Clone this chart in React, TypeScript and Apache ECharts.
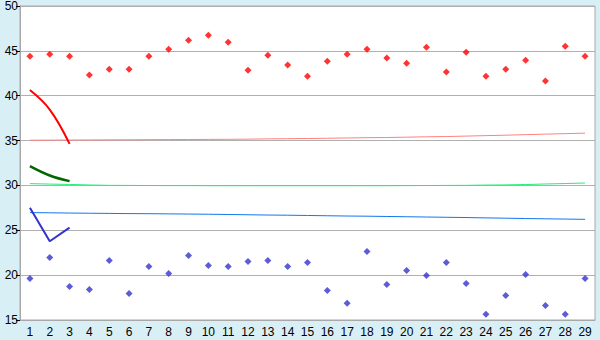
import React, { useEffect, useRef } from "react";
import * as echarts from "echarts";

const categories = Array.from({ length: 29 }, (_, i) => String(i + 1));

const upperPoints = [44.41, 44.63, 44.41, 42.3, 42.96, 42.96, 44.41, 45.18, 46.18, 46.74, 45.96, 42.85, 44.52, 43.41, 42.18, 43.85, 44.63, 45.18, 44.19, 43.63, 45.41, 42.63, 44.85, 42.18, 42.96, 43.96, 41.63, 45.52, 44.41];
const lowerPoints = [19.63, 21.96, 18.74, 18.41, 21.63, 17.96, 20.96, 20.19, 22.19, 21.08, 20.96, 21.52, 21.63, 20.96, 21.41, 18.3, 16.86, 22.63, 18.97, 20.52, 19.97, 21.41, 19.08, 15.63, 17.74, 20.08, 16.63, 15.63, 19.63];

const redLine = [40.63, 38.45, 34.63];
const greenLine = [32.15, 31.11, 30.48];
const blueLine = [27.52, 23.78, 25.3];

const redTrend = [35.04, 35.05, 35.06, 35.07, 35.08, 35.09, 35.1, 35.11, 35.12, 35.13, 35.14, 35.16, 35.19, 35.21, 35.23, 35.26, 35.29, 35.32, 35.34, 35.38, 35.42, 35.45, 35.5, 35.55, 35.6, 35.66, 35.72, 35.77, 35.83];
const greenTrend = [30.2, 30.15, 30.11, 30.05, 30.01, 30.0, 29.99, 29.98, 29.98, 29.97, 29.97, 29.97, 29.97, 29.97, 29.97, 29.97, 29.97, 29.97, 29.97, 29.98, 29.99, 30.0, 30.01, 30.04, 30.06, 30.1, 30.16, 30.21, 30.27];
const blueTrend = [26.97, 26.95, 26.92, 26.9, 26.88, 26.86, 26.85, 26.83, 26.81, 26.79, 26.76, 26.73, 26.7, 26.68, 26.65, 26.62, 26.59, 26.57, 26.54, 26.51, 26.48, 26.45, 26.42, 26.38, 26.35, 26.31, 26.28, 26.25, 26.22];

const yMin = 15;
const yMax = 50;
const yStep = 5;

export default function App() {
  const ref = useRef<HTMLDivElement>(null);
  useEffect(() => {
    if (!ref.current) return;
    const chart = echarts.init(ref.current, undefined, { renderer: "svg" });
    const font = "Liberation Sans";
    chart.setOption({
      animation: false,
      backgroundColor: "#d9eff6",
      grid: {
        left: 20,
        right: 5,
        top: 5,
        bottom: 20,
        show: true,
        backgroundColor: "#ffffff",
        borderColor: "#a8a8a8",
        borderWidth: 1,
      },
      xAxis: {
        type: "category",
        data: categories,
        boundaryGap: true,
        axisLine: { lineStyle: { color: "#a8a8a8", width: 1 } },
        axisTick: { alignWithLabel: true, length: 5, lineStyle: { color: "#000" } },
        axisLabel: { color: "#000", fontFamily: font, fontSize: 12, margin: 6, interval: 0 },
        splitLine: { show: false },
      },
      yAxis: {
        type: "value",
        min: yMin,
        max: yMax,
        interval: yStep,
        axisLine: { show: true, lineStyle: { color: "#a8a8a8", width: 1 } },
        axisTick: { show: true, length: 4, lineStyle: { color: "#000" } },
        axisLabel: { color: "#000", fontFamily: font, fontSize: 12, margin: 2 },
        splitLine: { show: true, lineStyle: { color: "#b0b0b0", width: 1 } },
      },
      series: [
        { type: "line", data: redTrend, symbol: "none", lineStyle: { color: "#ff8080", width: 1 }, z: 2 },
        { type: "line", data: greenTrend, symbol: "none", lineStyle: { color: "#22ee77", width: 1 }, z: 2 },
        { type: "line", data: blueTrend, symbol: "none", lineStyle: { color: "#1177ee", width: 1 }, z: 2 },
        { type: "line", data: redLine, symbol: "none", smooth: 0.4, lineStyle: { color: "#ff0000", width: 2 }, z: 3 },
        { type: "line", data: greenLine, symbol: "none", smooth: 0.4, lineStyle: { color: "#006600", width: 2.5 }, z: 3 },
        { type: "line", data: blueLine, symbol: "none", lineStyle: { color: "#3333cc", width: 2 }, z: 3 },
        { type: "scatter", data: upperPoints, symbol: "diamond", symbolSize: 7, itemStyle: { color: "#ff0000" }, z: 4 },
        { type: "scatter", data: lowerPoints, symbol: "diamond", symbolSize: 7, itemStyle: { color: "#3333cc" }, z: 4 },
      ],
    });
    return () => chart.dispose();
  }, []);
  return <div ref={ref} style={{ width: 600, height: 340, position: "absolute", left: 0, top: 0 }} />;
}
